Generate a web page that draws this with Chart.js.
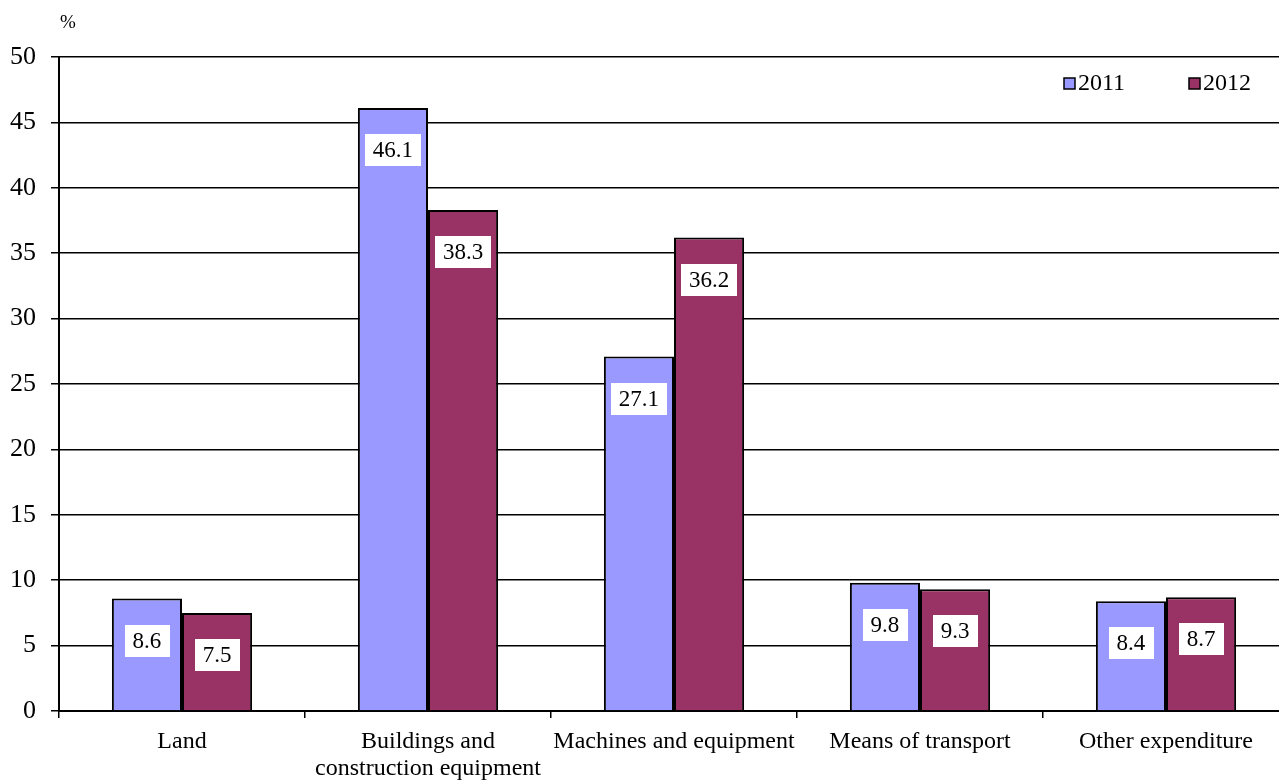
<!DOCTYPE html>
<html>
<head>
<meta charset="utf-8">
<script src="https://cdn.jsdelivr.net/npm/chart.js@4/dist/chart.umd.min.js"></script>
<style>
  html, body { margin: 0; padding: 0; background: #fff; overflow: hidden; }
  #wrap { position: absolute; left: 0; top: 0; width: 1300px; height: 780px; }
</style>
</head>
<body>
<div id="wrap"><canvas id="chart"></canvas></div>
<script>
const categories = [
  "Land",
  ["Buildings and", "construction equipment"],
  "Machines and equipment",
  "Means of transport",
  "Other expenditure"
];
const values2011 = [8.6, 46.1, 27.1, 9.8, 8.4];
const values2012 = [7.5, 38.3, 36.2, 9.3, 8.7];
const seriesNames = ["2011", "2012"];
const yTicks = { min: 0, max: 50, step: 5 };

const FONT = "'Liberation Serif', 'Times New Roman', serif";

// white boxes with the value, a little below each bar top
const valueBoxes = {
  id: "valueBoxes",
  afterDatasetsDraw(chart) {
    const ctx = chart.ctx;
    ctx.save();
    ctx.font = "23px " + FONT;
    ctx.textAlign = "center";
    ctx.textBaseline = "middle";
    chart.data.datasets.forEach((ds, i) => {
      chart.getDatasetMeta(i).data.forEach((bar, j) => {
        const txt = ds.data[j].toFixed(1);
        const w = ctx.measureText(txt).width + 16;
        const h = 32;
        const cy = bar.y + 42;
        ctx.fillStyle = "#fff";
        ctx.fillRect(Math.round(bar.x - w / 2), Math.round(cy - h / 2), Math.round(w), h);
        ctx.fillStyle = "#000";
        ctx.fillText(txt, bar.x, cy + 1);
      });
    });
    ctx.restore();
  }
};

// legend in the top right corner and the "%" unit label
const extras = {
  id: "extras",
  afterDraw(chart) {
    const ctx = chart.ctx;
    ctx.save();
    ctx.fillStyle = "#000";
    ctx.font = "19px " + FONT;
    ctx.textAlign = "left";
    ctx.textBaseline = "middle";
    ctx.fillText("%", 60, 23);

    ctx.font = "24px " + FONT;
    const xs = [1064, 1189];
    chart.data.datasets.forEach((ds, i) => {
      ctx.fillStyle = ds.backgroundColor;
      ctx.fillRect(xs[i], 78, 11, 11);
      ctx.lineWidth = 1.5;
      ctx.strokeStyle = "#000";
      ctx.strokeRect(xs[i], 78, 11, 11);
      ctx.fillStyle = "#000";
      ctx.fillText(ds.label, xs[i] + 14, 84);
    });
    ctx.restore();
  }
};

new Chart(document.getElementById("chart"), {
  type: "bar",
  data: {
    labels: categories,
    datasets: [
      {
        label: seriesNames[0],
        data: values2011,
        backgroundColor: "#9999FF",
        borderColor: "#000",
        borderWidth: 2
      },
      {
        label: seriesNames[1],
        data: values2012,
        backgroundColor: "#993366",
        borderColor: "#000",
        borderWidth: 2
      }
    ]
  },
  options: {
    responsive: true,
    maintainAspectRatio: false,
    animation: false,
    layout: { padding: { top: 57, right: 11, left: 0, bottom: 0 } },
    datasets: { bar: { categoryPercentage: 0.57, barPercentage: 1 } },
    plugins: {
      legend: { display: false },
      tooltip: { enabled: false }
    },
    scales: {
      x: {
        offset: true,
        grid: {
          offset: true,
          drawOnChartArea: false,
          drawTicks: true,
          tickLength: 7,
          color: "#000",
          lineWidth: 1.5
        },
        border: { color: "#000", width: 2 },
        ticks: {
          color: "#000",
          padding: 10,
          maxRotation: 0,
          autoSkip: false,
          font: { family: FONT, size: 24, lineHeight: 1.12 }
        },
        afterFit(scale) { scale.height = 69; }
      },
      y: {
        min: yTicks.min,
        max: yTicks.max,
        grid: {
          color: "#000",
          lineWidth: 1.5,
          tickLength: 8
        },
        border: { color: "#000", width: 2 },
        ticks: {
          stepSize: yTicks.step,
          color: "#000",
          padding: 15,
          font: { family: FONT, size: 26 }
        },
        afterFit(scale) { scale.width = 59; }
      }
    }
  },
  plugins: [valueBoxes, extras]
});
</script>
</body>
</html>
